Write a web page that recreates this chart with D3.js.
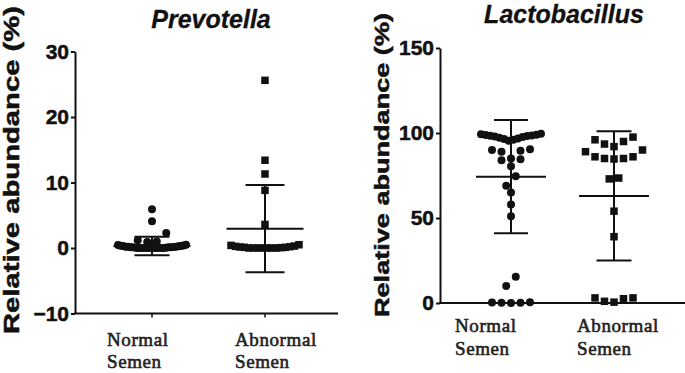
<!DOCTYPE html>
<html>
<head>
<meta charset="utf-8">
<script src="https://cdn.jsdelivr.net/npm/d3@7"></script>
<style>
  body { margin: 0; background: #fff; }
  svg { display: block; }
  .axis path, .axis line { stroke: #111; stroke-width: 2px; }
  .axis text { font-family: "Liberation Sans", Arial, sans-serif; font-weight: bold; fill: #111; stroke: #111; stroke-width: 0.5px; }
</style>
</head>
<body>
<svg id="chart" width="685" height="373"></svg>
<script>
// Groups on the x axis
const groups = ['Normal', 'Abnormal'];
const groupLines = [['Normal', 'Semen'], ['Abnormal', 'Semen']];

// Prevotella, relative abundance (%) per sample
const prevNormal = [5.9, 4.1, 2.3, 1.2, 1.0, 0.9,
    0.5, 0.45, 0.4, 0.35, 0.3, 0.3, 0.25, 0.2, 0.2, 0.2, 0.15, 0.1, 0.1, 0.1, 0.1, 0.05,
    0.05, 0, 0, 0, 0, 0, 0, 0, 0, 0, 0, 0];
const prevAbnormal = [25.6, 13.4, 11.3, 8.8, 3.6,
    0.5, 0.4, 0.3, 0.25, 0.2, 0.15, 0.1, 0.1, 0.05, 0, 0, 0, 0, 0, 0, 0];
const prevMean = [0.3, 2.95];
const prevSD = [1.4, 6.65];
const prevTicks = [-10, 0, 10, 20, 30];

// Lactobacillus, relative abundance (%) per sample
const lactNormal = [99.5, 99.3, 99, 98.8, 98.6, 98.4, 98.2, 98, 97.6, 97.2, 96.8, 96.4, 96, 95.5,
    90.5, 90, 89.5, 89, 85, 84.5, 84, 80.5, 74.5, 69, 65, 58, 51, 15.5, 10,
    0.5, 0.3, 0.2, 0.1, 0];
const lactAbnormal = [97.6, 96, 95, 93.5, 92, 90, 89, 86, 86, 85, 85, 84.7,
    73.5, 73, 54, 39, 3, 3, 2.5, 1, 0.5];
const lactMean = [74.3, 63];
const lactSD = [33.3, 38];
const lactTicks = [0, 50, 100, 150];

const panels = [
    {
        title: 'Prevotella', titleX: 211, titleY: 28, titleSize: 25,
        series: [prevNormal, prevAbnormal], mean: prevMean, sd: prevSD, ticks: prevTicks,
        xRange: [152, 265], yDomain: [-10, 30], yRange: [313.5, 51.5],
        axisX: 75, axisEnd: 338, xTick: 4, rowW: 68, step: 9.5,
        labelX: 19, labelMid: 170, labelLen: 328, labelSize: 22,
        catX: [107, 235], catY: [346, 368],
        meanHalf: 38.5, capHalf: [17.5, 19.5]
    },
    {
        title: 'Lactobacillus', titleX: 564, titleY: 23, titleSize: 25,
        series: [lactNormal, lactAbnormal], mean: lactMean, sd: lactSD, ticks: lactTicks,
        xRange: [511, 614], yDomain: [0, 150], yRange: [303, 48],
        axisX: 440, axisEnd: 685, xTick: 0, rowW: 60, step: 9.5,
        labelX: 389, labelMid: 165, labelLen: 304, labelSize: 21,
        catX: [455, 577], catY: [332, 355],
        meanHalf: 35, capHalf: [17, 17.5]
    }
];

const svg = d3.select('#chart');
const ink = '#111';
const r = 4;
const rowH = 10;

// scatter layout in rows: points whose y lies within rowH share a row and are
// spread side by side, lowest value in the middle, higher ones further out
function rows(values, cx, y, rowW, step) {
    const out = [];
    const sorted = values.slice().sort((a, b) => b - a);
    let i = 0;
    while (i < sorted.length) {
        const y0 = y(sorted[i]);
        const row = [];
        while (i < sorted.length && y(sorted[i]) - y0 < rowH) row.push(sorted[i++]);
        const n = row.length;
        const sp = n > 1 ? Math.min(step, rowW / (n - 1)) : 0;
        const slots = d3.range(n).map(k => (k - (n - 1) / 2) * sp)
            .sort((a, b) => Math.abs(a) - Math.abs(b));
        row.sort((a, b) => a - b).forEach((v, k) => {
            out.push({ v: v, x: cx + slots[k], y: y(v) });
        });
    }
    return out;
}

panels.forEach(p => {
    const x = d3.scalePoint().domain(groups).range(p.xRange);
    const y = d3.scaleLinear().domain(p.yDomain).range(p.yRange);
    const g = svg.append('g');

    // Title
    g.append('text')
        .attr('x', p.titleX)
        .attr('y', p.titleY)
        .attr('text-anchor', 'middle')
        .style('font-family', '"Liberation Sans", Arial, sans-serif')
        .style('font-size', p.titleSize + 'px')
        .style('font-weight', 'bold')
        .style('font-style', 'italic')
        .style('fill', ink)
        .style('stroke', ink)
        .style('stroke-width', 0.3)
        .text(p.title);

    // Y axis
    g.append('g')
        .attr('class', 'axis')
        .attr('transform', `translate(${p.axisX},0)`)
        .call(d3.axisLeft(y).tickValues(p.ticks).tickSize(4).tickSizeOuter(0).tickPadding(2))
        .selectAll('text')
        .style('font-size', '21px');

    // X axis line and small ticks
    g.append('line')
        .attr('x1', p.axisX - 1).attr('x2', p.axisEnd)
        .attr('y1', y(p.yDomain[0])).attr('y2', y(p.yDomain[0]))
        .attr('stroke', ink).attr('stroke-width', 2);
    if (p.xTick > 0) {
        g.selectAll('.xtick')
            .data(groups)
            .enter().append('line')
            .attr('x1', d => x(d)).attr('x2', d => x(d))
            .attr('y1', y(p.yDomain[0])).attr('y2', y(p.yDomain[0]) + p.xTick)
            .attr('stroke', ink).attr('stroke-width', 1.5);
    }

    // Category labels, two lines each
    groupLines.forEach((lines, gi) => {
        const t = g.append('text')
            .style('font-family', '"Liberation Serif", "Times New Roman", serif')
            .style('font-size', '19px')
            .style('letter-spacing', '0.6px')
            .style('fill', '#222')
            .style('stroke', '#222')
            .style('stroke-width', 0.6);
        lines.forEach((s, li) => {
            t.append('tspan')
                .attr('x', p.catX[gi])
                .attr('y', p.catY[li])
                .text(s);
        });
    });

    // Y axis title
    g.append('text')
        .attr('transform', `translate(${p.labelX},${p.labelMid}) rotate(-90)`)
        .attr('text-anchor', 'middle')
        .attr('textLength', p.labelLen)
        .attr('lengthAdjust', 'spacingAndGlyphs')
        .style('font-family', '"Liberation Sans", Arial, sans-serif')
        .style('font-size', p.labelSize + 'px')
        .style('font-weight', 'bold')
        .style('fill', ink)
        .style('stroke', ink)
        .style('stroke-width', 0.5)
        .text('Relative abundance (%)');

    // Points: circles for normal, squares for abnormal
    p.series.forEach((vals, gi) => {
        const pts = rows(vals, x(groups[gi]), y, p.rowW, p.step);
        if (gi === 0) {
            g.selectAll('.pt' + gi)
                .data(pts)
                .enter().append('circle')
                .attr('cx', d => d.x).attr('cy', d => d.y)
                .attr('r', r)
                .attr('fill', ink);
        } else {
            g.selectAll('.pt' + gi)
                .data(pts)
                .enter().append('rect')
                .attr('x', d => d.x - 3.75).attr('y', d => d.y - 3.75)
                .attr('width', 7.5).attr('height', 7.5)
                .attr('fill', ink);
        }
    });

    // Mean and SD bars
    groups.forEach((grp, gi) => {
        const cx = x(grp);
        const m = p.mean[gi], s = p.sd[gi];
        const bar = g.append('g').attr('stroke', ink).attr('stroke-width', 2);
        bar.append('line')
            .attr('x1', cx).attr('x2', cx)
            .attr('y1', y(m - s)).attr('y2', y(m + s));
        bar.append('line')
            .attr('x1', cx - p.meanHalf).attr('x2', cx + p.meanHalf)
            .attr('y1', y(m)).attr('y2', y(m));
        [m - s, m + s].forEach(v => {
            bar.append('line')
                .attr('x1', cx - p.capHalf[gi]).attr('x2', cx + p.capHalf[gi])
                .attr('y1', y(v)).attr('y2', y(v));
        });
    });
});
</script>
</body>
</html>
